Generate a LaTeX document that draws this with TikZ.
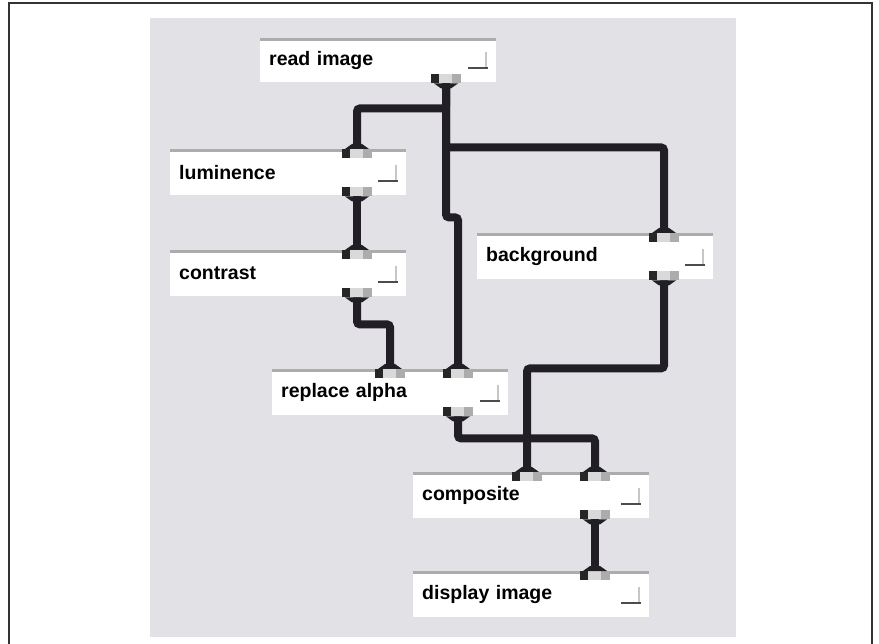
\documentclass[tikz,border=0pt]{standalone}
\usepackage{fontspec}
\newfontfamily\uifont{Liberation Sans}
\usetikzlibrary{positioning}
\definecolor{panel}{RGB}{226,226,230}
\definecolor{wirec}{RGB}{34,30,38}
\tikzset{mod/.style={anchor=north west,fill=white,text width=218pt,inner xsep=9pt,inner ysep=0pt,minimum height=46pt,align=left,font={\uifont\bfseries\fontsize{19.5pt}{22pt}\selectfont},
  path picture={\draw[gray!65,line width=5pt](path picture bounding box.north west)--(path picture bounding box.north east);
   \draw[gray!45,line width=1.5pt]([xshift=-10pt,yshift=14pt]path picture bounding box.south east)--++(0,16pt);
   \draw[black!70,line width=2pt]([xshift=-8pt,yshift=14pt]path picture bounding box.south east)--++(-20pt,0);}},
 prt/.style={rectangle,minimum width=30pt,minimum height=9pt,inner sep=0pt,
  path picture={\fill[black!85](path picture bounding box.south west)rectangle([xshift=8pt]path picture bounding box.north west);
   \fill[gray!30]([xshift=8pt]path picture bounding box.south west)rectangle([xshift=-9pt]path picture bounding box.north east);
   \fill[gray!65]([xshift=-9pt]path picture bounding box.south east)rectangle(path picture bounding box.north east);}},
 pin/.style={prt,anchor=north},pout/.style={prt,anchor=south},
 wr/.style={draw=wirec,line width=8pt,rounded corners=3pt}}

\begin{document}
\begin{tikzpicture}[x=1pt,y=-1pt]
\useasboundingbox (0,0) rectangle (879,644);
\draw[black!80,line width=1.2pt] (9,650) |- (872,3) -- (872,650);
\fill[panel] (150,18) rectangle (736,637);
% modules
\node[mod,minimum height=44pt](ri) at (260,38){read image};
\node[mod](lum) at (170,149){luminence};\node[mod](con) at (170,250){contrast};
\node[mod](bg) at (477,233){background};\node[mod](ra) at (272,369){replace alpha};
\node[mod](comp) at (413,472){composite};\node[mod](disp) at (413,571){display image};
% ports
\node[pout](ri-o) at ([xshift=186pt,yshift=-1pt]ri.south west){};
\foreach \m in {lum,con,bg}{\node[pin](\m-i) at ([xshift=187pt]\m.north west){};\node[pout](\m-o) at ([xshift=187pt,yshift=-1pt]\m.south west){};}
\node[pin](ra-i1) at ([xshift=118pt]ra.north west){};\node[pin](ra-i2) at ([xshift=186pt]ra.north west){};\node[pout](ra-o) at ([xshift=186pt,yshift=-1pt]ra.south west){};
\node[pin](comp-i1) at ([xshift=114pt]comp.north west){};\node[pin](comp-i2) at ([xshift=182pt]comp.north west){};\node[pout](comp-o) at ([xshift=182pt,yshift=-1pt]comp.south west){};
\node[pin](disp-i) at ([xshift=182pt]disp.north west){};
% wires
\draw[wr](ri-o.south)--++(0,25)-|(lum-i.north);\draw[wr](ri-o.south)--++(0,64)-|(bg-i.north);
\draw[wr](ri-o.south)--++(0,134)-|(ra-i2.north);\draw[wr](lum-o.south)--(con-i.north);
\draw[wr](con-o.south)--++(0,27)-|(ra-i1.north);\draw[wr](bg-o.south)--++(0,88)-|(comp-i1.north);
\draw[wr](ra-o.south)--++(0,22)-|(comp-i2.north);\draw[wr](comp-o.south)--(disp-i.north);
% funnels
\foreach \p in {lum-i,con-i,bg-i,ra-i1,ra-i2,comp-i1,comp-i2,disp-i}
 \fill[wirec]([xshift=-12pt]\p.north)--([xshift=12pt]\p.north)--([xshift=5pt,yshift=5pt]\p.north)--([xshift=-5pt,yshift=5pt]\p.north)--cycle;
\foreach \p in {ri-o,lum-o,con-o,bg-o,ra-o,comp-o}
 \fill[wirec]([xshift=-12pt]\p.south)--([xshift=12pt]\p.south)--([xshift=5pt,yshift=-5pt]\p.south)--([xshift=-5pt,yshift=-5pt]\p.south)--cycle;
\end{tikzpicture}
\end{document}
